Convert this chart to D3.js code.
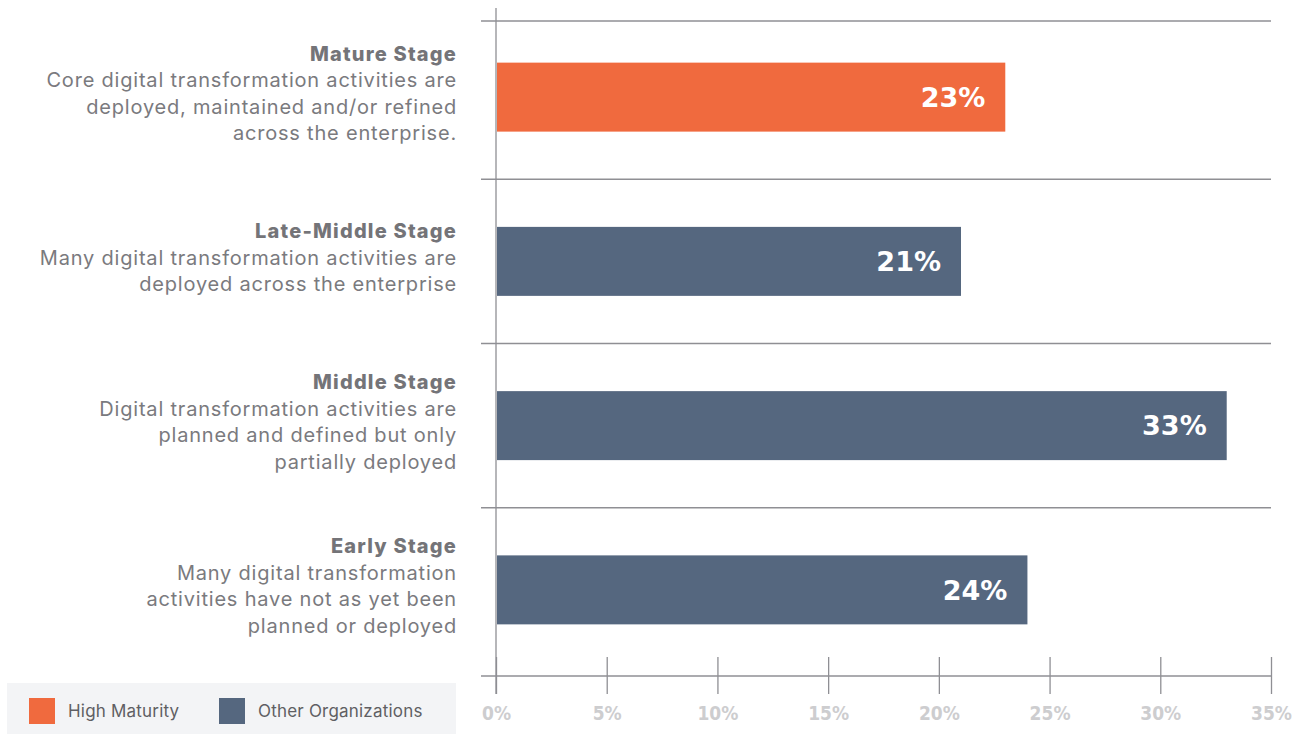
<!DOCTYPE html>
<html>
<head>
<meta charset="utf-8">
<script src="https://cdn.jsdelivr.net/npm/d3@7"></script>
<style>
  html, body { margin: 0; padding: 0; background: #ffffff; }
  svg { display: block; }
</style>
</head>
<body>
<svg id="chart" width="1298" height="734"></svg>
<script>
// Digital transformation maturity stages, share of organizations
const stages = ["Mature Stage", "Late-Middle Stage", "Middle Stage", "Early Stage"];
const descriptions = [
  ["Core digital transformation activities are", "deployed, maintained and/or refined", "across the enterprise."],
  ["Many digital transformation activities are", "deployed across the enterprise"],
  ["Digital transformation activities are", "planned and defined but only", "partially deployed"],
  ["Many digital transformation", "activities have not as yet been", "planned or deployed"]
];
const values = [23, 21, 33, 24];
const groups = ["High Maturity", "Other Organizations", "Other Organizations", "Other Organizations"];
const legendItems = ["High Maturity", "Other Organizations"];
const tickValues = [0, 5, 10, 15, 20, 25, 30, 35];

const colorScale = d3.scaleOrdinal()
  .domain(legendItems)
  .range(["#F06A3E", "#55677F"]);

const svg = d3.select("#chart");

const x = d3.scaleLinear().domain([0, 35]).range([496, 1271]);
const y = d3.scaleBand().domain(stages).range([15, 672]).paddingInner(0.58).paddingOuter(0.29);

const gridColor = "#8f8f94";
const topY = 21;
const axisY = 676;

// horizontal separators: top rule plus one between each pair of stages
const edges = [topY].concat(stages.slice(1).map(s => y(s) - y.step() * y.paddingInner() / 2));
svg.append("g").selectAll("line")
  .data(edges)
  .join("line")
  .attr("x1", 481).attr("x2", x(35))
  .attr("y1", d => d).attr("y2", d => d)
  .attr("stroke", gridColor).attr("stroke-width", 1.3);

// bottom axis
const axis = svg.append("g")
  .attr("transform", `translate(0,${axisY})`)
  .call(d3.axisBottom(x).tickValues(tickValues).tickSize(0).tickFormat(d => d + "%"));
axis.select(".domain").remove();
axis.append("line")
  .attr("x1", 481).attr("x2", x(35))
  .attr("stroke", gridColor).attr("stroke-width", 1.3);
axis.selectAll(".tick").append("line")
  .attr("y1", -19).attr("y2", 18)
  .attr("stroke", gridColor).attr("stroke-width", 1.3);
axis.selectAll(".tick text")
  .attr("y", 37)
  .attr("dy", "0.35em")
  .attr("fill", "#cdcdcf")
  .attr("font-family", "'DejaVu Sans Condensed', 'DejaVu Sans', sans-serif")
  .attr("font-weight", 700)
  .attr("font-size", 19);

// vertical baseline
svg.append("line")
  .attr("x1", x(0)).attr("x2", x(0))
  .attr("y1", 8).attr("y2", 694)
  .attr("stroke", gridColor).attr("stroke-width", 1.3);

// bars
svg.append("g").selectAll("rect")
  .data(values)
  .join("rect")
  .attr("x", x(0) + 1)
  .attr("y", (d, i) => y(stages[i]))
  .attr("width", d => x(d) - x(0) - 1)
  .attr("height", y.bandwidth())
  .attr("fill", (d, i) => colorScale(groups[i]));

// value labels inside bars
svg.append("g").selectAll("text")
  .data(values)
  .join("text")
  .attr("x", d => x(d) - 20)
  .attr("y", (d, i) => y(stages[i]) + y.bandwidth() / 2)
  .attr("dy", "0.36em")
  .attr("text-anchor", "end")
  .attr("fill", "#ffffff")
  .attr("font-family", "'DejaVu Sans', sans-serif")
  .attr("font-weight", 700)
  .attr("font-size", 27)
  .text(d => d + "%");

// stage labels
const lineH = 26.5;
const labels = svg.append("g").selectAll("text")
  .data(stages)
  .join("text")
  .attr("text-anchor", "end")
  .attr("font-family", "Inter, 'Open Sans', sans-serif")
  .attr("font-size", 20)
  .attr("letter-spacing", 0.8)
  .attr("fill", "#7a7a7e")
  .attr("transform", (d, i) => {
    const n = descriptions[i].length + 1;
    const c = y(d) + y.bandwidth() / 2 - 4;
    return `translate(457,${c - (n - 1) * lineH / 2})`;
  });
labels.each(function (d, i) {
  const t = d3.select(this);
  t.append("tspan").attr("x", 0).attr("dy", "0.36em")
    .attr("font-weight", 800).attr("letter-spacing", 1.2)
    .attr("fill", "#747478").text(d);
  descriptions[i].forEach(line => {
    t.append("tspan").attr("x", 0).attr("dy", lineH).text(line);
  });
});

// legend
const legend = svg.append("g");
legend.append("rect")
  .attr("x", 7).attr("y", 683).attr("width", 449).attr("height", 51)
  .attr("fill", "#f3f4f6");
const legendX = [29, 219];
const li = legend.selectAll("g")
  .data(legendItems)
  .join("g")
  .attr("transform", (d, i) => `translate(${legendX[i]},698)`);
li.append("rect")
  .attr("width", 26).attr("height", 26)
  .attr("fill", d => colorScale(d));
li.append("text")
  .attr("x", 39).attr("y", 13).attr("dy", "0.35em")
  .attr("font-family", "Inter, 'Open Sans', sans-serif")
  .attr("font-size", 17)
  .attr("letter-spacing", 0.2)
  .attr("fill", "#5f5f63")
  .text(d => d);
</script>
</body>
</html>
